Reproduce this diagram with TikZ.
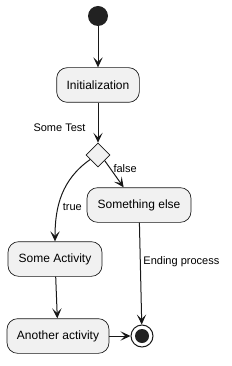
\documentclass[tikz,border=0pt]{standalone}
\usepackage{fontspec}
\setmainfont{Liberation Sans}
\usetikzlibrary{arrows.meta,shapes.geometric}

\definecolor{boxfill}{HTML}{F1F1F1}
\definecolor{linecol}{HTML}{181818}
\definecolor{dotcol}{HTML}{222222}

\begin{document}
\begin{tikzpicture}[
  x=0.75pt, y=0.75pt,
  font=\fontsize{9}{11}\selectfont,
  >={Stealth[length=7.5pt, width=7pt, inset=3.5pt]},
  act/.style={draw=linecol, fill=boxfill, rounded corners=8pt, line width=0.5pt, minimum height=26pt, inner sep=0pt},
  arrow/.style={->, draw=linecol, line width=0.75pt},
  lbl/.style={font=\fontsize{8.25}{10}\selectfont, inner sep=2pt}
]
\useasboundingbox (0,0) rectangle (231,-366);

\node[circle, fill=dotcol, minimum size=15pt, inner sep=0pt] (start) at (98,-16) {};
\node[act, minimum width=62pt] (init) at (98,-85) {Initialization};
\node[diamond, draw=linecol, fill=boxfill, line width=0.5pt, minimum width=18pt, minimum height=18pt, inner sep=0pt] (test) at (98,-155) {};
\node[act, minimum width=78pt] (else) at (139,-205) {Something else};
\node[act, minimum width=70.5pt] (some) at (55,-259) {Some Activity};
\node[act, minimum width=76.5pt] (another) at (58,-336) {Another activity};

% Endknoten: Ring mit Punkt
\node[circle, draw=linecol, line width=0.75pt, fill=white, minimum size=16.5pt, inner sep=0pt] (end) at (142,-336) {};
\node[circle, fill=dotcol, minimum size=10.5pt, inner sep=0pt] (enddot) at (end) {};

\draw[arrow] (start) -- (init);
\draw[arrow] (init) -- node[lbl, pos=0.63, left=7pt] {Some Test} (test);
\draw[arrow] (test.-40) -- node[lbl, pos=0.3, right] {false} (else.131);
\draw[arrow] (test.210) to[out=215, in=90] node[lbl, pos=0.64, right=1pt] {true} (some.north);
\draw[arrow] (some) -- (another);
\draw[arrow] (another) -- (end);
\draw[arrow] (else) -- node[lbl, pos=0.38, right=0pt] {Ending process} (end);
\end{tikzpicture}
\end{document}
